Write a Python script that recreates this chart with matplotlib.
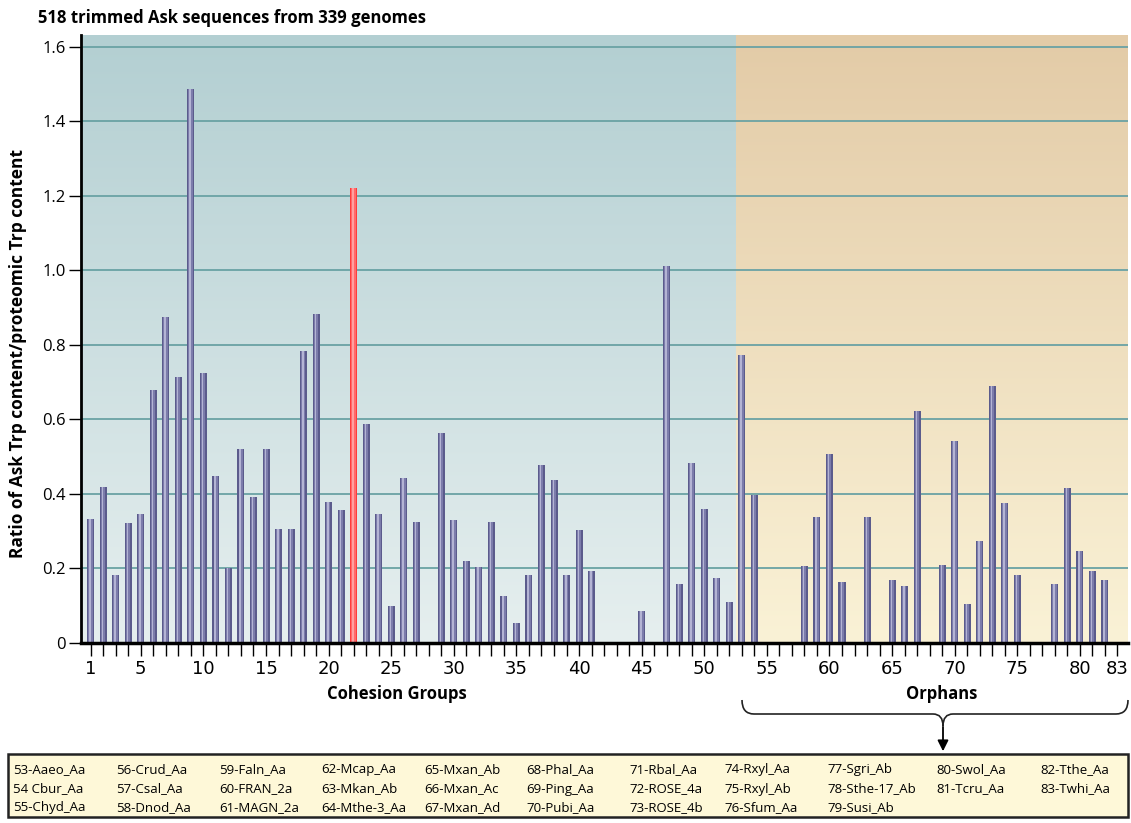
import numpy as np
import matplotlib.pyplot as plt
from matplotlib.patches import Rectangle, PathPatch, FancyArrowPatch
from matplotlib.path import Path
from matplotlib.colors import LinearSegmentedColormap

# data (index 1..83, 0 = no bar)
ratio = [0.332, 0.418, 0.183, 0.321, 0.346, 0.678, 0.875, 0.715, 1.487, 0.725,
         0.448, 0.200, 0.521, 0.393, 0.521, 0.306, 0.306, 0.784, 0.883, 0.379,
         0.358, 1.221, 0.587, 0.346, 0.098, 0.442, 0.325, 0.0, 0.565, 0.329,
         0.219, 0.204, 0.325, 0.127, 0.055, 0.183, 0.478, 0.437, 0.183, 0.302,
         0.193, 0.0, 0.0, 0.0, 0.087, 0.0, 1.013, 0.159, 0.482, 0.361,
         0.175, 0.109, 0.772, 0.397, 0.0, 0.0, 0.0, 0.207, 0.339, 0.506,
         0.164, 0.0, 0.339, 0.0, 0.168, 0.153, 0.622, 0.0, 0.210, 0.543,
         0.106, 0.273, 0.689, 0.376, 0.183, 0.0, 0.0, 0.159, 0.416, 0.247,
         0.193, 0.168, 0.0]
groups = np.arange(1, len(ratio) + 1)
highlight = 22
first_orphan = 53
xtick_labels = [1, 5, 10, 15, 20, 25, 30, 35, 40, 45, 50, 55, 60, 65, 70, 75, 80, 83]
yticks = [0, 0.2, 0.4, 0.6, 0.8, 1.0, 1.2, 1.4, 1.6]
ytick_labels = ['0', '0.2', '0.4', '0.6', '0.8', '1.0', '1.2', '1.4', '1.6']

orphan_cols = [
    ['53-Aaeo_Aa', '54 Cbur_Aa', '55-Chyd_Aa'],
    ['56-Crud_Aa', '57-Csal_Aa', '58-Dnod_Aa'],
    ['59-Faln_Aa', '60-FRAN_2a', '61-MAGN_2a'],
    ['62-Mcap_Aa', '63-Mkan_Ab', '64-Mthe-3_Aa'],
    ['65-Mxan_Ab', '66-Mxan_Ac', '67-Mxan_Ad'],
    ['68-Phal_Aa', '69-Ping_Aa', '70-Pubi_Aa'],
    ['71-Rbal_Aa', '72-ROSE_4a', '73-ROSE_4b'],
    ['74-Rxyl_Aa', '75-Rxyl_Ab', '76-Sfum_Aa'],
    ['77-Sgri_Ab', '78-Sthe-17_Ab', '79-Susi_Ab'],
    ['80-Swol_Aa', '81-Tcru_Aa'],
    ['82-Tthe_Aa', '83-Twhi_Aa'],
]

W, H = 1131, 823
plt.rcParams['font.family'] = ['Open Sans', 'DejaVu Sans']


def px(x, y):
    # pixel (from top-left) -> figure fraction
    return x / W, 1 - y / H


fig = plt.figure(figsize=(W / 100, H / 100), dpi=100)
ax = fig.add_axes([81 / W, (H - 643) / H, (1128 - 81) / W, (643 - 35) / H])

x0, x1 = 0.225, 83.84
y1 = 1.632
xsplit = first_orphan - 0.44

# gradient backgrounds, darker at the top
grad = np.linspace(0, 1, 256).reshape(-1, 1)
teal = LinearSegmentedColormap.from_list('teal', ['#b3cfd2', '#e6efef'])
tan = LinearSegmentedColormap.from_list('tan', ['#e3cba7', '#faf2d6'])
ax.imshow(grad, cmap=teal, extent=[x0, xsplit, 0, y1], aspect='auto', zorder=0,
          origin='upper')
ax.imshow(grad, cmap=tan, extent=[xsplit, x1, 0, y1], aspect='auto', zorder=0,
          origin='upper')
ax.set_xlim(x0, x1)
ax.set_ylim(0, y1)

for yv in yticks[1:]:
    ax.axhline(yv, color='#6aa2a4', lw=1.3, zorder=1)

# cylinder-like bars
base = ['#ff3b3b' if g == highlight else '#5b5b8c' for g in groups]
mid = ['#ff6a6a' if g == highlight else '#7c7cab' for g in groups]
hi = ['#ffa0a0' if g == highlight else '#b4b4d4' for g in groups]
ax.bar(groups, ratio, width=0.56, color=base, zorder=2)
ax.bar(groups - 0.02, ratio, width=0.34, color=mid, zorder=3)
ax.bar(groups - 0.06, ratio, width=0.12, color=hi, zorder=4)

ax.spines['top'].set_visible(False)
ax.spines['right'].set_visible(False)
ax.spines['left'].set_linewidth(2)
ax.spines['bottom'].set_linewidth(2.5)
ax.spines['left'].set_zorder(6)
ax.spines['bottom'].set_zorder(6)

ax.set_xticks(groups)
ax.set_xticklabels([str(g) if g in xtick_labels else '' for g in groups],
                   family=['Liberation Sans Narrow', 'DejaVu Sans'], fontsize=13)
ax.tick_params(axis='x', direction='out', length=9, width=1, pad=3)
ax.set_yticks(yticks)
ax.set_yticklabels(ytick_labels, fontsize=12)
ax.tick_params(axis='y', direction='out', length=9, width=1, pad=2)

fig.text(*px(38, 18), '518 trimmed Ask sequences from 339 genomes',
         fontsize=12, fontweight='bold', va='center', ha='left')
fig.text(*px(18, 354), 'Ratio of Ask Trp content/proteomic Trp content',
         fontsize=12.5, fontweight='bold', rotation=90, va='center', ha='center')
fig.text(*px(397, 694), 'Cohesion Groups', fontsize=12, fontweight='bold',
         va='center', ha='center')
fig.text(*px(942, 694), 'Orphans', fontsize=12, fontweight='bold',
         va='center', ha='center')

# brace under orphans
bx0, bx1, bc, by = 742, 1128, 943, 714
pts = [(bx0, 700), (bx0, 714), (bx0 + 12, by), (bc - 10, by),
       (bc, by), (bc, 726), (bc, by), (bc + 10, by),
       (bx1 - 12, by), (bx1, 714), (bx1, 700)]
codes = [Path.MOVETO, Path.CURVE3, Path.CURVE3, Path.LINETO,
         Path.CURVE3, Path.CURVE3, Path.CURVE3, Path.CURVE3,
         Path.LINETO, Path.CURVE3, Path.CURVE3]
brace = Path([px(*p) for p in pts], codes)
fig.patches.append(PathPatch(brace, transform=fig.transFigure, fill=False,
                             lw=1.2, color='#222222'))
fig.patches.append(FancyArrowPatch(px(bc, 724), px(bc, 754),
                                   transform=fig.transFigure,
                                   arrowstyle='-|>', mutation_scale=16,
                                   lw=1.3, color='black'))

# orphan legend box
fig.patches.append(Rectangle(px(8, 817), (1128 - 8) / W, (817 - 754) / H,
                             transform=fig.transFigure, facecolor='#fef8d8',
                             edgecolor='#222222', lw=1.8))
col_x = [13, 116, 219, 321, 424, 526, 629, 724, 827, 936, 1040]
row_y = [770, 789, 808]
for cx, col in zip(col_x, orphan_cols):
    for ry, name in zip(row_y, col):
        fig.text(*px(cx, ry), name, fontsize=9.5, va='center', ha='left')

fig.savefig('out.png', dpi=100)
